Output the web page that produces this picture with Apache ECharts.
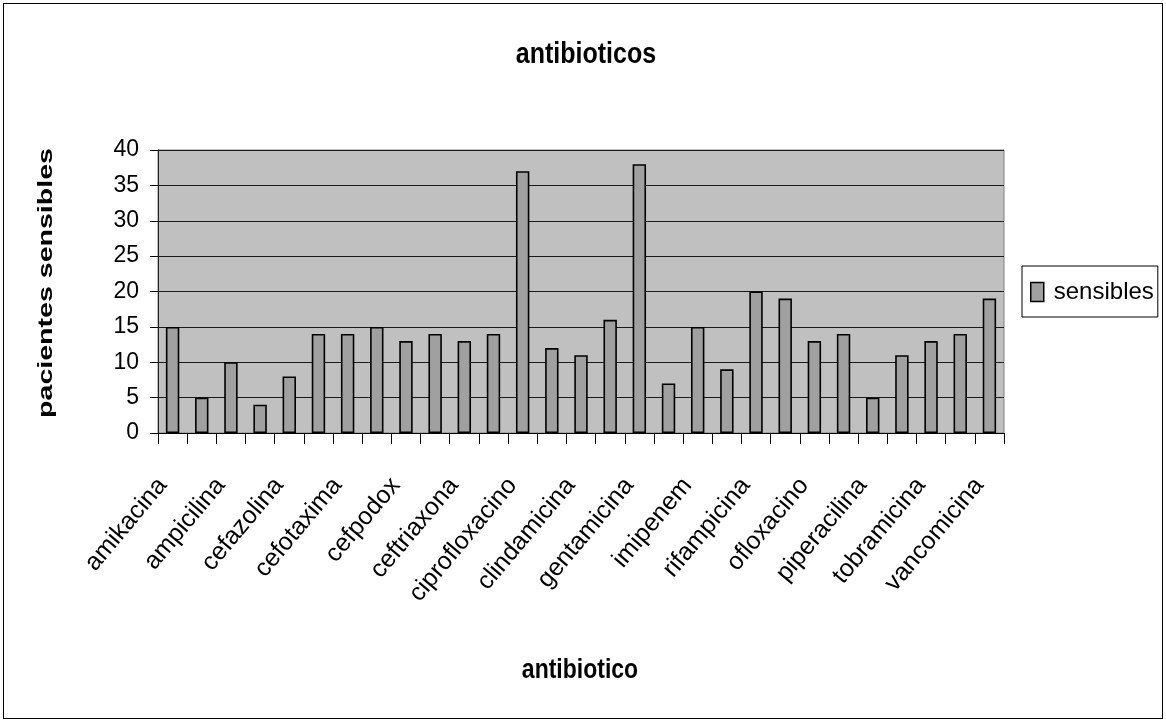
<!DOCTYPE html>
<html>
<head>
<meta charset="utf-8">
<script src="https://cdn.jsdelivr.net/npm/echarts@6/dist/echarts.min.js"></script>
<style>
  html, body { margin: 0; padding: 0; background: #fff; }
  #frame { position: absolute; left: 3px; top: 3px; width: 1158px; height: 714px; border: 1px solid #000; }
  #chart { position: absolute; left: 0; top: 0; width: 1166px; height: 722px; }
</style>
</head>
<body>
<div id="frame"></div>
<div id="chart"></div>
<script>
// Antibiotics tested and the number of sensitive patients for each
const antibioticos = [
  'amikacina', 'amoxicilina', 'ampicilina', 'aztreonam', 'cefazolina', 'cefepime',
  'cefotaxima', 'cefoxitina', 'cefpodox', 'ceftazidima', 'ceftriaxona', 'cefuroxima',
  'ciprofloxacino', 'claritromicina', 'clindamicina', 'eritromicina', 'gentamicina',
  'ertapenem', 'imipenem', 'meropenem', 'rifampicina', 'norfloxacino', 'ofloxacino',
  'oxacilina', 'piperacilina', 'teicoplanina', 'tobramicina', 'trimetoprim', 'vancomicina'
];
const sensibles = [
  15, 5, 10, 4, 8, 14, 14, 15, 13, 14, 13, 14, 37, 12, 11, 16, 38,
  7, 15, 9, 20, 19, 13, 14, 5, 11, 13, 14, 19
];
const yTicks = { min: 0, max: 40, interval: 5 };

const titulo = 'antibioticos';
const nombreX = 'antibiotico';
const nombreY = 'pacientes sensibles';

const sans = "'Liberation Sans', Arial, sans-serif";

const chart = echarts.init(document.getElementById('chart'), null, { renderer: 'canvas' });
chart.setOption({
  animation: false,
  backgroundColor: 'transparent',
  // Title and axis names drawn as tall, slightly stretched text
  graphic: [
    {
      type: 'text', x: 586, y: 55, scaleY: 1.17,
      style: { text: titulo, x: 0, y: 0, align: 'center', verticalAlign: 'middle',
               font: "bold 25px 'Liberation Sans', Arial, sans-serif", fill: '#000' }
    },
    {
      type: 'text', x: 580, y: 671, scaleY: 1.17,
      style: { text: nombreX, x: 0, y: 0, align: 'center', verticalAlign: 'middle',
               font: "bold 23px 'Liberation Sans', Arial, sans-serif", fill: '#000' }
    },
    {
      type: 'text', x: 46, y: 283, rotation: Math.PI / 2, scaleX: 1.36,
      style: { text: nombreY, x: 0, y: 0, align: 'center', verticalAlign: 'middle',
               font: "bold 21px 'Liberation Sans', Arial, sans-serif", fill: '#000' }
    }
  ],
  legend: {
    data: ['sensibles'],
    left: 1022, top: 266,
    orient: 'vertical',
    padding: [14, 4, 13, 8],
    borderColor: '#000', borderWidth: 1,
    itemWidth: 13, itemHeight: 19, itemGap: 0,
    icon: 'rect',
    itemStyle: { borderColor: '#000', borderWidth: 1.5 },
    textStyle: { fontFamily: sans, fontSize: 24, color: '#000', padding: [0, 0, 0, 5] }
  },
  grid: { left: 158, right: 162, top: 150, bottom: 289, show: true, backgroundColor: '#c0c0c0', borderColor: '#808080', borderWidth: 1 },
  xAxis: {
    type: 'category',
    data: antibioticos,
    axisLine: { lineStyle: { color: '#000', width: 1 } },
    axisTick: { show: true, interval: 0, length: 11, lineStyle: { color: '#000' } },
    axisLabel: {
      interval: 1, rotate: 50, margin: 36, padding: [0, 16, 0, 0],
      fontFamily: sans, fontSize: 25, color: '#000'
    }
  },
  yAxis: {
    type: 'value',
    min: yTicks.min, max: yTicks.max, interval: yTicks.interval,
    axisLine: { show: true, lineStyle: { color: '#222', width: 1 } },
    axisTick: { show: true, length: 8, lineStyle: { color: '#000' } },
    axisLabel: { fontFamily: sans, fontSize: 23, color: '#000', margin: 19 },
    splitLine: { show: true, lineStyle: { color: '#1a1a1a', width: 1 } }
  },
  series: [{
    name: 'sensibles',
    type: 'bar',
    data: sensibles,
    barWidth: '46%',
    itemStyle: { color: '#a0a0a0', borderColor: '#000', borderWidth: 1.6 }
  }]
});
</script>
</body>
</html>
